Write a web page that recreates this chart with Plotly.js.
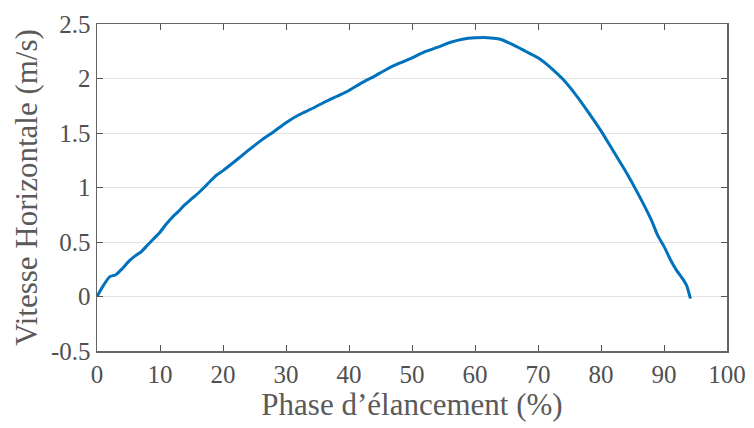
<!DOCTYPE html>
<html>
<head>
<meta charset="utf-8">
<script src="https://cdn.plot.ly/plotly-3.0.1.min.js"></script>
<style>html,body{margin:0;padding:0;background:#fff}#chart{width:754px;height:428px}</style>
</head>
<body>
<div id="chart"></div>
<script>
const phase = [0,1,2,3,4,5,6,7,8,9,10,11,12,13,14,15,16,17,18,19,20,22,24,26,28,30,32,34,36,38,40,42,44,46,48,50,52,54,56,58,60,62,63,64,66,68,70,72,74,76,78,80,82,84,86,88,89,90,91,92,93,93.6,94.2];
const vitesse = [0,0.10,0.18,0.20,0.255,0.32,0.37,0.41,0.47,0.53,0.59,0.665,0.73,0.785,0.845,0.895,0.945,1.00,1.06,1.115,1.155,1.245,1.34,1.43,1.51,1.595,1.665,1.72,1.78,1.835,1.89,1.96,2.02,2.085,2.14,2.19,2.245,2.285,2.33,2.36,2.373,2.375,2.37,2.36,2.31,2.25,2.19,2.10,1.99,1.85,1.69,1.52,1.33,1.14,0.93,0.70,0.56,0.46,0.34,0.24,0.16,0.10,-0.02];
const xTicks = [0,10,20,30,40,50,60,70,80,90,100];
const yTicks = [-0.5,0,0.5,1,1.5,2,2.5];
const yTickText = ["-0.5","0","0.5","1","1.5","2","2.5"];

const tickFont = {family: "Liberation Serif, serif", size: 25, color: "#505050"};
const titleFont = {family: "Liberation Serif, serif", size: 31, color: "#5a5a5a"};
Plotly.newPlot("chart", [{
  x: phase, y: vitesse, type: "scatter", mode: "lines",
  line: {color: "#0072BD", width: 3, shape: "spline", smoothing: 0.6},
  hoverinfo: "skip"
}], {
  width: 754, height: 428,
  margin: {l: 97, r: 27, t: 24, b: 77},
  paper_bgcolor: "#fff", plot_bgcolor: "#fff",
  font: tickFont,
  showlegend: false,
  xaxis: {
    range: [0, 100], tickmode: "array", tickvals: xTicks,
    ticks: "inside", ticklen: 6, tickcolor: "#555", tickwidth: 1,
    showline: true, linecolor: "#666", linewidth: 1.5, mirror: "ticks",
    showgrid: false, zeroline: false,
    tickfont: tickFont,
    title: {text: "Phase d’élancement (%)", font: titleFont, standoff: 2}
  },
  yaxis: {
    range: [-0.5, 2.5], tickmode: "array", tickvals: yTicks, ticktext: yTickText,
    ticks: "inside", ticklen: 6, tickcolor: "#555", tickwidth: 1,
    showline: true, linecolor: "#666", linewidth: 1.5, mirror: "ticks",
    showgrid: true, gridcolor: "#e3e3e3", gridwidth: 1, zeroline: false,
    tickfont: tickFont,
    title: {text: "Vitesse Horizontale (m/s)", font: titleFont, standoff: 4}
  }
}, {displayModeBar: false, staticPlot: true});
</script>
</body>
</html>
